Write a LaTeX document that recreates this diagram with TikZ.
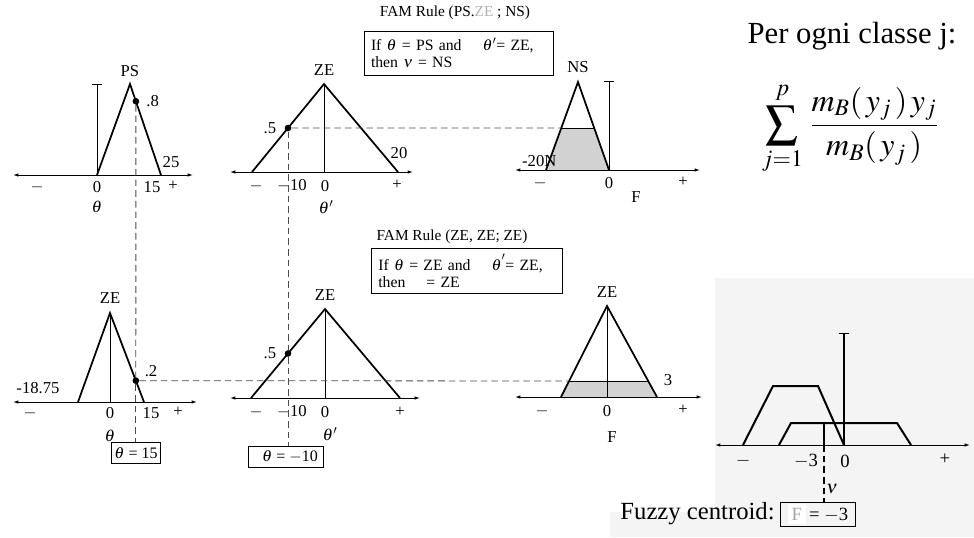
\documentclass[tikz,border=0pt]{standalone}
\usepackage{mathptmx}
\usepackage{fontspec}
\setmainfont{Liberation Serif}
\usepackage{amsmath}
\usetikzlibrary{arrows.meta,positioning,calc}

\begin{document}
\begin{tikzpicture}[
    x=0.75pt, y=-0.75pt,
    axis/.style={line width=0.7pt, {Latex[length=4pt,width=2.6pt]}-{Latex[length=4pt,width=2.6pt]}},
    memb/.style={line width=1.3pt, line join=miter},
    stem/.style={line width=0.6pt},
    capped/.style={line width=0.6pt, -{Bar[width=7pt]}},
    guide/.style={line width=0.6pt, dash pattern=on 5pt off 3pt, black!70},
    dot/.style={circle, fill, inner sep=0pt, minimum size=5pt},
    cut/.style={fill=gray!35, draw=none},
    lbl/.style={font=\fontsize{12.5}{14}\selectfont, inner sep=1pt},
    scanlbl/.style={font=\fontsize{14}{16}\selectfont, inner sep=1pt},
    rulebox/.style={draw, line width=0.6pt, align=left, font=\fontsize{11.8}{13}\selectfont, text width=132pt, minimum height=33pt, inner xsep=5pt, inner ysep=2pt},
    ruletitle/.style={font=\fontsize{11.5}{13}\selectfont},
    result/.style={draw, line width=0.7pt, font=\fontsize{12}{14}\selectfont, inner sep=2pt, minimum height=16pt}
]
\useasboundingbox (0,0) rectangle (974,537);

% Panel: theta is PS
\coordinate (a1L) at (13,175);
\coordinate (a1R) at (193,175);
\coordinate (psL) at (97,175);
\coordinate (psT) at (130,84);
\coordinate (psR) at (161,175);
\coordinate (c1) at (97,84);
\draw[axis] (a1L) -- (a1R);
\draw[capped] (psL) -- (c1);
\draw[memb] (psL) -- (psT) -- (psR);
\node[dot] (d1) at ($(psT)!0.19!(psR)$) {};
\node[lbl] at (130,71) {PS};
\node[lbl, right=4pt of d1] {.8};
\node[lbl] at (171,162) {25};
\node[lbl] at (37,187) {$-$};
\node[lbl] at (97,187) {0};
\node[lbl] at (152,187) {15};
\node[lbl] at (173,186) {+};
\node[lbl] at (97,207) {$\theta$};

% Panel: theta' is ZE
\coordinate (a2L) at (230,172);
\coordinate (a2R) at (413,172);
\coordinate (z2L) at (252,172);
\coordinate (z2T) at (324,84);
\coordinate (z2R) at (398,172);
\draw[axis] (a2L) -- (a2R);
\draw[stem] (z2T) -- (z2T |- a2L);
\draw[memb] (z2L) -- (z2T) -- (z2R);
\node[dot] (d2) at ($(z2L)!0.5!(z2T)$) {};
\node[lbl] at (324,70) {ZE};
\node[lbl, left=5pt of d2] {.5};
\node[lbl] at (399,153) {20};
\node[lbl] at (256,186) {$-$};
\node[lbl] at (292,186) {$-$10};
\node[lbl] at (325,186) {0};
\node[lbl] at (397,185) {+};
\node[lbl] at (326,207) {$\theta'$};

% Panel: F is NS
\coordinate (a3L) at (515,170);
\coordinate (a3R) at (700,170);
\coordinate (nsL) at (546,170);
\coordinate (nsT) at (578,82);
\coordinate (nsR) at (609,170);
\coordinate (c3) at (609,81);
\coordinate (nsCL) at ($(nsL)!0.477!(nsT)$);
\coordinate (nsCR) at ($(nsR)!0.477!(nsT)$);
\fill[cut] (nsL) -- (nsCL) -- (nsCR) -- (nsR) -- cycle;
\draw[line width=0.6pt] (nsCL) -- (nsCR);
\draw[axis] (a3L) -- (a3R);
\draw[capped] (nsR) -- (c3);
\draw[memb] (nsL) -- (nsT) -- (nsR);
\node[lbl] at (578,67) {NS};
\node[lbl, anchor=east] at (558,161) {-20N};
\node[lbl] at (540,183) {$-$};
\node[lbl] at (609,183) {0};
\node[lbl] at (683,182) {+};
\node[lbl] at (636,197) {F};

% Rule 1
\node[ruletitle] (t1) at (455,13) {FAM Rule (PS.\textcolor{gray!60}{ZE} ; NS)};
\node[rulebox] (r1) at (459,53) {If $\theta$ = PS and \quad $\theta'$= ZE,\\ then $\nu$ = NS};

% Panel: theta is ZE
\coordinate (a4L) at (13,402);
\coordinate (a4R) at (197,402);
\coordinate (z4L) at (78,402);
\coordinate (z4T) at (110,313);
\coordinate (z4R) at (144,402);
\draw[axis] (a4L) -- (a4R);
\draw[stem] (z4T) -- (z4T |- a4L);
\draw[memb] (z4L) -- (z4T) -- (z4R);
\node[dot] (d4) at ($(z4T)!0.76!(z4R)$) {};
\node[lbl] at (110,298) {ZE};
\node[lbl] at (151,371) {.2};
\node[lbl] at (38,388) {-18.75};
\node[lbl] at (30,413) {$-$};
\node[lbl] at (110,413) {0};
\node[lbl] at (151,413) {15};
\node[lbl] at (178,412) {+};
\node[lbl] at (110,436) {$\theta$};
\node[result] (b4) at (136,453) {$\theta$ = 15};

% Panel: theta' is ZE
\coordinate (a5L) at (230,398);
\coordinate (a5R) at (420,398);
\coordinate (z5L) at (251,398);
\coordinate (z5T) at (325,309);
\coordinate (z5R) at (400,398);
\draw[axis] (a5L) -- (a5R);
\draw[stem] (z5T) -- (z5T |- a5L);
\draw[memb] (z5L) -- (z5T) -- (z5R);
\node[dot] (d5) at ($(z5L)!0.5!(z5T)$) {};
\node[lbl] at (325,295) {ZE};
\node[lbl, left=5pt of d5] {.5};
\node[lbl] at (256,412) {$-$};
\node[lbl] at (292,412) {$-$10};
\node[lbl] at (325,412) {0};
\node[lbl] at (400,412) {+};
\node[lbl] at (330,434) {$\theta'$};
\node[result, minimum width=56pt] (b5) at (286,457) {\ \ $\theta$ = $-$10};

% Panel: F is ZE
\coordinate (a6L) at (515,397);
\coordinate (a6R) at (702,397);
\coordinate (z6L) at (561,397);
\coordinate (z6T) at (607,306);
\coordinate (z6R) at (657,397);
\coordinate (zfCL) at ($(z6L)!0.176!(z6T)$);
\coordinate (zfCR) at ($(z6R)!0.176!(z6T)$);
\fill[cut] (z6L) -- (zfCL) -- (zfCR) -- (z6R) -- cycle;
\draw[line width=0.6pt] (zfCL) -- (zfCR);
\draw[axis] (a6L) -- (a6R);
\draw[stem] (z6T) -- (z6T |- a6L);
\draw[memb] (z6L) -- (z6T) -- (z6R);
\node[lbl] at (607,292) {ZE};
\node[lbl] at (668,380) {3};
\node[lbl] at (542,411) {$-$};
\node[lbl] at (607,411) {0};
\node[lbl] at (683,410) {+};
\node[lbl] at (612,437) {F};

% Rule 2
\node[ruletitle] (t2) at (452,237) {FAM Rule (ZE, ZE; ZE)};
\node[rulebox, text width=133pt, minimum height=34pt] (r2) at (467,271) {If $\theta$ = ZE and \quad $\theta\raisebox{3pt}{$'$}$= ZE,\\ then \quad = ZE};

% Guide lines
\draw[guide] (d1) -- (d4);
\draw[guide] (d4) -- (b4.north -| d4);
\draw[guide] (d2) -- (nsCL);
\draw[guide] (d2) -- (d5);
\draw[guide] (d5) -- (b5.north -| d5);
\draw[guide] (d4) -- (zfCL);

% Defuzzified output (scan)
\fill[gray!9] (715,278) -- (974,278) -- (974,537) -- (610,537) -- (610,512) -- (715,512) -- cycle;
\coordinate (a7L) at (715,445);
\coordinate (a7R) at (970,445);
\coordinate (o7) at (844,445);
\coordinate (c7) at (844,333);
\draw[axis] (a7L) -- (a7R);
\draw[capped, line width=0.8pt] (o7) -- (c7);
\draw[memb, line width=1.5pt] (743,445) -- (773,386) -- (818,386) -- (o7);
\draw[memb, line width=1.5pt] (779,445) -- (791,423) -- (897,423) -- (911,445);
\coordinate (cg) at (824,423);
\node[result, font=\fontsize{14}{16}\selectfont, fill=gray!9, minimum width=56pt, minimum height=18pt, inner sep=1pt] (b7) at (818,514)
    {\colorbox{white}{\textcolor{gray!70}{F}}\,= $-$3};
\draw[stem, line width=0.8pt] (cg) -- (cg |- a7L);
\draw[guide, black, line width=0.8pt] (cg |- a7L) -- (b7.north -| cg);
\node[font=\fontsize{18.5}{20}\selectfont, inner sep=1pt, anchor=east] (fc) at ([xshift=-3pt]b7.west) {Fuzzy centroid:};
\node[scanlbl] at (743,461) {$-$};
\node[scanlbl] at (806,461) {$-$3};
\node[scanlbl] at (845,461) {0};
\node[scanlbl] at (945,459) {+};
\node[scanlbl] at (832,489) {$\nu$};

% Centroid formula
\node[font=\fontsize{23}{26}\selectfont] (cls) at (852,36) {Per ogni classe j:};
\node[font=\fontsize{24}{28}\selectfont] (frm) at (850,128)
    {$\displaystyle\sum_{j=1}^{\raisebox{3pt}{$\scriptstyle p$}}\,\frac{m_B(\,y_j\,)\,y_j}{m_B(\,y_j\,)}$};

\end{tikzpicture}
\end{document}
